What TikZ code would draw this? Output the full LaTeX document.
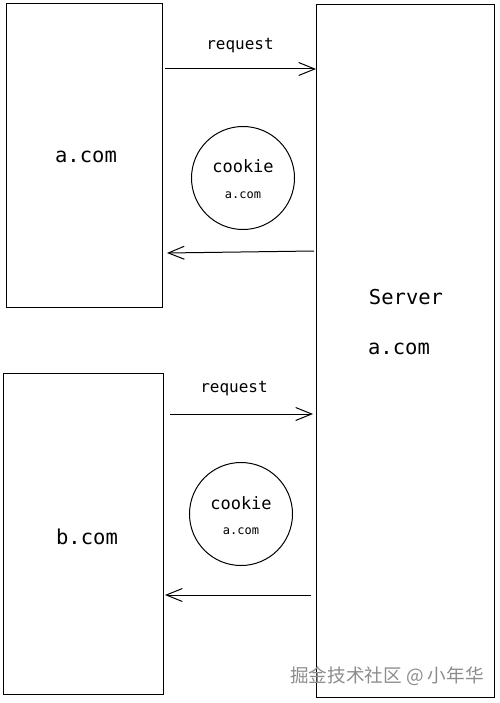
\documentclass[tikz,border=0pt]{standalone}
\usepackage{fontspec}
\setmonofont{DejaVu Sans Mono}
\newfontfamily\cjk{Noto Sans CJK SC}
\usetikzlibrary{arrows.meta}
\begin{document}
\begin{tikzpicture}[x=1pt,y=-1pt,
  box/.style={draw,line width=1pt,rectangle,inner sep=0pt},
  cookiec/.style={draw,line width=1pt,circle,minimum size=103pt,inner sep=0pt},
  lbl/.style={font=\ttfamily\fontsize{16}{16}\selectfont,inner sep=0pt},
  big/.style={font=\ttfamily\fontsize{20.5}{20.5}\selectfont,inner sep=0pt},
  conn/.style={line width=1pt,-{Straight Barb[length=16pt,width=13pt,line width=1pt]}}]
\useasboundingbox (0,0) rectangle (499,703);
% boxes
\node[box,minimum width=156pt,minimum height=303pt] (A) at (84,155.5) {};
\node[box,minimum width=178pt,minimum height=692pt] (S) at (405,351) {};
\node[box,minimum width=160pt,minimum height=321pt] (B) at (83,533.5) {};
% texts
\node[big] at (86,157) {a.com};
\node[big] at (87,537) {b.com};
\node[big] at (406,297) {Server};
\node[big] at (399,349) {a.com};
\node[lbl] at (240,46) {request};
\node[lbl] at (234,389) {request};
% cookies
\node[cookiec] (C1) at (243,178) {};
\node[font=\ttfamily\fontsize{17}{17}\selectfont,inner sep=0pt] at (243,166) {cookie};
\node[font=\ttfamily\fontsize{12}{12}\selectfont,inner sep=0pt] at (243,195) {a.com};
\node[cookiec] (C2) at (241,514) {};
\node[font=\ttfamily\fontsize{17}{17}\selectfont,inner sep=0pt] at (241,503) {cookie};
\node[font=\ttfamily\fontsize{12}{12}\selectfont,inner sep=0pt] at (241,531) {a.com};
% connector endpoints
\coordinate (a1s) at (165,69);
\coordinate (a1e) at (316,69);
\coordinate (a2s) at (314,251);
\coordinate (a2e) at (167,253);
\coordinate (b1s) at (170,414);
\coordinate (b1e) at (313,414);
\coordinate (b2s) at (311,595);
\coordinate (b2e) at (165,595);
\draw[conn] (a1s) -- (a1e);
\draw[conn] (a2s) -- (a2e);
\draw[conn] (b1s) -- (b1e);
\draw[conn] (b2s) -- (b2e);
% watermark
\node[font=\cjk\fontsize{18.6}{18.6}\selectfont,text=black!45,inner sep=0pt] (wm) at (387,676) {掘金技术社区 @ 小年华};
\end{tikzpicture}
\end{document}
